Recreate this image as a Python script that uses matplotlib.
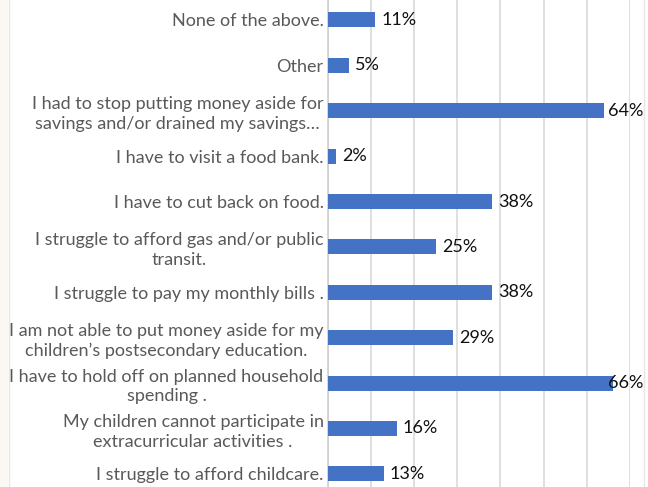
import numpy as np
import matplotlib.pyplot as plt
from matplotlib.patches import Rectangle
from matplotlib.lines import Line2D

plt.rcParams['font.family'] = ['Lato', 'DejaVu Sans']

# bottom to top
answers = [
    "I struggle to afford childcare.",
    "My children cannot participate in\nextracurricular activities .",
    "I have to hold off on planned household\nspending .",
    "I am not able to put money aside for my\nchildren\u2019s postsecondary education.",
    "I struggle to pay my monthly bills .",
    "I struggle to afford gas and/or public\ntransit.",
    "I have to cut back on food.",
    "I have to visit a food bank.",
    "I had to stop putting money aside for\nsavings and/or drained my savings\u2026",
    "Other",
    "None of the above.",
]
pct = [13, 16, 66, 29, 38, 25, 38, 2, 64, 5, 11]
grid_ticks = [0, 10, 20, 30, 40, 50, 60, 70]

fig = plt.figure(figsize=(6.48, 4.87), dpi=100)
ax = fig.add_axes([327.7 / 648, 0, (630 - 327.7) / 648, 1])

y = np.arange(len(answers))
ax.barh(y, pct, height=0.33, color='#4472C4', zorder=3)

# value labels sit just past the bar end, pulled back where the plot runs out
for yi, v in zip(y, pct):
    ax.text(min(v + 1.4, 64.8), yi, f"{v}%", va='center', ha='left',
            fontsize=13, color='#111111', zorder=4, clip_on=False)

ax.set_xlim(0, 70)
ax.set_ylim(-0.29, 10.44)
ax.set_xticks(grid_ticks)
ax.xaxis.grid(True, color='#D9D9D9', linewidth=1.2, zorder=0)
ax.tick_params(axis='x', length=0, labelbottom=False)
ax.set_yticks(y, labels=answers)
ax.tick_params(axis='y', length=0, pad=3, labelsize=13, labelcolor='#595959')
for t in ax.get_yticklabels():
    t.set_multialignment('center')
    t.set_linespacing(1.3)

for side in ['top', 'right', 'bottom']:
    ax.spines[side].set_visible(False)
ax.spines['left'].set_color('#D0D0D0')
ax.spines['left'].set_linewidth(1.2)

# chart area edges
fig.patches.append(Rectangle((0, 0), 8 / 648, 1, transform=fig.transFigure,
                             facecolor='#FBF7F3', edgecolor='none'))
fig.lines.append(Line2D([8.5 / 648] * 2, [0, 1], transform=fig.transFigure,
                        color='#E6E6E6', linewidth=1))
fig.lines.append(Line2D([643.5 / 648] * 2, [0, 1], transform=fig.transFigure,
                        color='#E6E6E6', linewidth=1))

fig.savefig('out.png', dpi=100)
